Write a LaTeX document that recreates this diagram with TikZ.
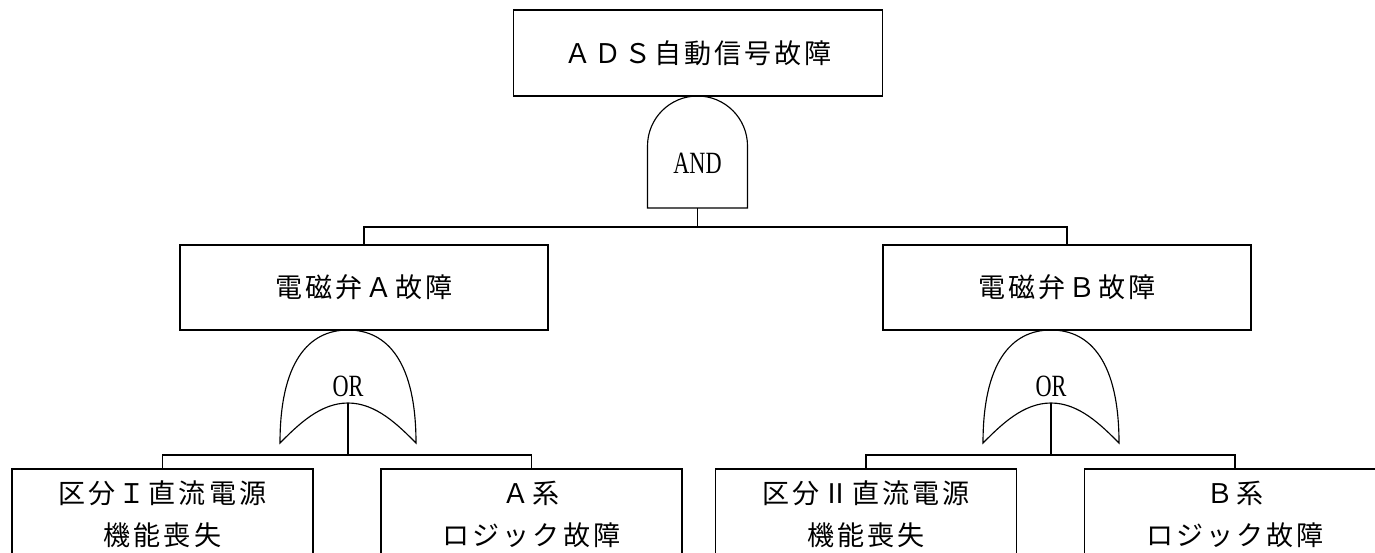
\documentclass[tikz,border=0pt]{standalone}
\usepackage{fontspec}
\newfontfamily\jpfont[LetterSpace=11]{Noto Sans CJK JP}
\newfontfamily\gatefont[FakeStretch=0.72]{Liberation Serif}
\tikzset{
  event/.style={draw,line width=0.8pt,inner sep=0pt,align=center,
    font=\jpfont\fontsize{15.4pt}{23.9pt}\selectfont},
  topbox/.style={event,minimum width=7.38cm,minimum height=1.72cm},
  midbox/.style={event,minimum width=7.36cm,minimum height=1.70cm},
  basic/.style={event,minimum width=6.02cm,minimum height=1.80cm},
  gatelabel/.style={inner sep=0pt,font=\gatefont\fontsize{17.6pt}{20pt}\selectfont},
  gateline/.style={line width=0.65pt},
  link/.style={line width=0.65pt}
}
\begin{document}
\begin{tikzpicture}[x=0.02cm,y=0.02cm]
  \useasboundingbox (0,0) rectangle (1375,552);
  \clip (0,0) rectangle (1375,552);
  % events
  \node[topbox] (ads) at (698,499) {ＡＤＳ自動信号故障};
  \node[midbox] (solA) at (364,264.5) {電磁弁Ａ故障};
  \node[midbox] (solB) at (1067,264.5) {電磁弁Ｂ故障};
  \node[basic] (dcA) at (162.5,38) {区分Ｉ直流電源\\機能喪失};
  \node[basic] (logA) at (531.5,38) {Ａ系\\ロジック故障};
  \node[basic] (dcB) at (866,38) {区分Ⅱ直流電源\\機能喪失};
  \node[basic] (logB) at (1235,38) {Ｂ系\\ロジック故障};
  % gates
  \draw[gateline] (647.5,344) -- (647.5,406) arc[start angle=180,end angle=0,radius=50]
    -- (747.5,344) -- cycle;
  \node[gatelabel] (andg) at (697.5,389) {AND};
  \coordinate (andbot) at (697.5,344);
  \draw[gateline] (280,109) .. controls (280,189) and (308,222) .. (348,222)
    .. controls (388,222) and (416,189) .. (416,109)
    .. controls (398,127) and (376,149) .. (348,149)
    .. controls (320,149) and (298,127) .. (280,109) -- cycle;
  \node[gatelabel] (orA) at (348,166) {OR};
  \coordinate (orAbot) at (348,149);
  \draw[gateline] (983,109) .. controls (983,189) and (1011,222) .. (1051,222)
    .. controls (1091,222) and (1119,189) .. (1119,109)
    .. controls (1101,127) and (1079,149) .. (1051,149)
    .. controls (1023,149) and (1001,127) .. (983,109) -- cycle;
  \node[gatelabel] (orB) at (1051,166) {OR};
  \coordinate (orBbot) at (1051,149);
  % links
  \draw[link] (andbot) -- ++(0,-19) -| (solA.north);
  \draw[link] (andbot) -- ++(0,-19) -| (solB.north);
  \draw[link] (orAbot) -- ++(0,-52) -| (dcA.north);
  \draw[link] (orAbot) -- ++(0,-52) -| (logA.north);
  \draw[link] (orBbot) -- ++(0,-52) -| (dcB.north);
  \draw[link] (orBbot) -- ++(0,-52) -| (logB.north);
\end{tikzpicture}
\end{document}
